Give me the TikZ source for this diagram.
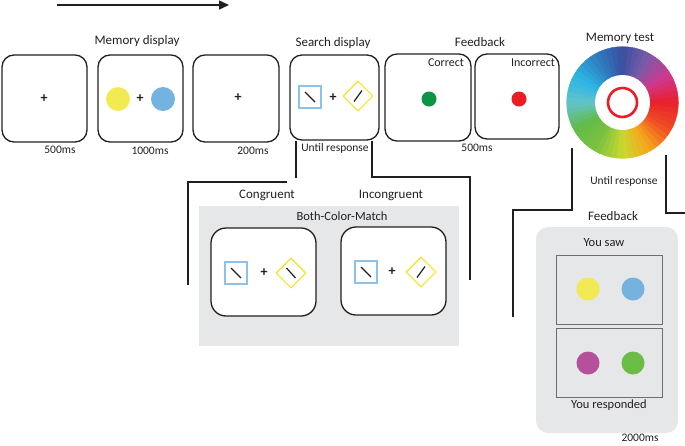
\documentclass[tikz,border=0pt]{standalone}
\usepackage{fontspec}
\setmainfont{Carlito}
\usetikzlibrary{arrows.meta}
\definecolor{ink}{HTML}{231F20}
\definecolor{panel}{HTML}{E6E7E8}
\definecolor{sqblue}{HTML}{8DC1E8}
\definecolor{diayel}{HTML}{F4E423}
\definecolor{dotyel}{HTML}{F2EA52}
\definecolor{dotblue}{HTML}{74B3E0}
\definecolor{dotgreen}{HTML}{0F9446}
\definecolor{dotred}{HTML}{EC1C24}
\definecolor{dotmag}{HTML}{B5519C}
\definecolor{dotlgreen}{HTML}{6BBE45}
\definecolor{rectgray}{HTML}{6D6E71}
\definecolor{k0}{HTML}{E8202A}
\definecolor{k1}{HTML}{EF4B26}
\definecolor{k2}{HTML}{F7A51C}
\definecolor{k3}{HTML}{C9D92E}
\definecolor{k4}{HTML}{7DC242}
\definecolor{k5}{HTML}{62BB47}
\definecolor{k6}{HTML}{62C3CC}
\definecolor{k7}{HTML}{2CB5E5}
\definecolor{k8}{HTML}{2E7FC2}
\definecolor{k9}{HTML}{3A4FA0}
\definecolor{k10}{HTML}{7A5BA7}
\definecolor{k11}{HTML}{D0378F}
\begin{document}
\begin{tikzpicture}[x=1pt,y=-1pt,
  frame/.style={draw=ink, line width=1.3pt, rounded corners=12pt, inner sep=0pt},
  title/.style={font=\fontsize{13}{15}\selectfont, text=ink, inner sep=0pt},
  lab/.style={font=\fontsize{11.5}{13}\selectfont, text=ink, inner sep=0pt},
  plus/.style={font=\fontsize{14}{15}\selectfont\bfseries, text=ink, inner sep=0pt},
  dot/.style={circle, inner sep=0pt, minimum size=#1},
  bsq/.style={draw=sqblue, line width=1.2pt, minimum size=22pt, inner sep=0pt},
  ydia/.style={draw=diayel, line width=1.2pt, minimum size=21pt, inner sep=0pt, rotate=45},
  bar/.style={draw=ink, line width=1.2pt},
  link/.style={draw=ink, line width=1.1pt}]
\useasboundingbox (0,0) rectangle (685,445);

% time arrow
\coordinate (a0) at (57,5);
\coordinate (a1) at (229,5);
\draw[ink, line width=1.5pt, -{Triangle[length=10pt,width=9pt]}] (a0) -- (a1);

% top row frames
\node[frame, minimum width=85pt, minimum height=87pt] (f1) at (44.5,98.5) {};
\node[frame, minimum width=85pt, minimum height=87pt] (f2) at (140.5,98.5) {};
\node[frame, minimum width=86pt, minimum height=87pt] (f3) at (236,98.5) {};
\node[frame, minimum width=89pt, minimum height=85pt] (f4) at (334.5,97.5) {};
\node[frame, minimum width=86pt, minimum height=87pt] (f5) at (428,97.5) {};
\node[frame, minimum width=84pt, minimum height=85pt] (f6) at (517,96.5) {};

% titles
\node[title] (t1) at (137,41) {Memory display};
\node[title] (t2) at (333,43) {Search display};
\node[title] (t3) at (480,42) {Feedback};
\node[title] (t4) at (620,38) {Memory test};

% durations
\node[lab] (d1) at (60,150) {500ms};
\node[lab] (d2) at (150,151) {1000ms};
\node[lab] (d3) at (253,151) {200ms};
\node[lab] (d4) at (335,148) {Until response};
\node[lab] (d5) at (477,148) {500ms};
\node[lab] (d6) at (624,181) {Until response};

% frame contents
\node[plus] (p1) at (44,99) {+};
\node[dot=24pt, fill=dotyel] (c1) at (118,99) {};
\node[plus] (p2) at (140,99) {+};
\node[dot=24pt, fill=dotblue] (c2) at (163,99) {};
\node[plus] (p3) at (238,98) {+};

\node[bsq] (s1) at (310,97) {};
\draw[bar] ([shift={(-5,-5)}]s1.center) -- ([shift={(5,5)}]s1.center);
\node[plus] (p4) at (333,98) {+};
\node[ydia] (y1) at (358,96) {};
\draw[bar] ([shift={(-4,5.5)}]y1.center) -- ([shift={(4,-5.5)}]y1.center);

\node[lab, font=\fontsize{12}{14}\selectfont] (cor) at (446,63) {Correct};
\node[dot=15pt, fill=dotgreen] (g1) at (429,99) {};
\node[lab, font=\fontsize{12}{14}\selectfont] (inc) at (533,63) {Incorrect};
\node[dot=15pt, fill=dotred] (r1) at (519,99) {};

% colour wheel
\coordinate (W) at (622.5,102.5);
\foreach \a/\ca/\cb in {0/k0/k1,30/k1/k2,60/k2/k3,90/k3/k4,120/k4/k5,150/k5/k6,180/k6/k7,210/k7/k8,240/k8/k9,270/k9/k10,300/k10/k11,330/k11/k0}{
  \foreach \i in {0,...,4}{
    \pgfmathsetmacro\st{\a+6*\i}
    \pgfmathsetmacro\md{\a+6*\i+3}
    \pgfmathsetmacro\en{\a+6*\i+6.5}
    \pgfmathtruncatemacro\p{90-20*\i}
    \filldraw[fill=\ca!\p!\cb, draw=\ca!\p!\cb, line width=0.4pt, line join=round] (W) -- +(\st:55.8) -- +(\md:55.85) -- +(\en:55.8) -- cycle;
  }
}
\fill[white] (W) circle (27.5);
\node[circle, draw=dotred, line width=2.6pt, minimum size=29pt, inner sep=0pt] (ring) at (W) {};

% search display brackets
\coordinate (sl0) at (296,141);
\coordinate (sl1) at (296,178);
\coordinate (sl2) at (287,182);
\coordinate (sl3) at (188,182);
\coordinate (sl4) at (188,285);
\draw[link] (sl0) -- (sl1);
\draw[link] (sl2) -- (sl3) -- (sl4);
\coordinate (sr0) at (372,141);
\coordinate (sr1) at (372,177);
\coordinate (sr2) at (470,177);
\coordinate (sr3) at (470,280);
\draw[link] (sr0) -- (sr1) -- (sr2) -- (sr3);

% memory test brackets
\coordinate (ml0) at (572,148);
\coordinate (ml1) at (572,210);
\coordinate (ml2) at (513,210);
\coordinate (ml3) at (513,317);
\draw[link] (ml0) -- (ml1) -- (ml2) -- (ml3);
\coordinate (mr0) at (666,155);
\coordinate (mr1) at (666,213);
\coordinate (mr2) at (685,213);
\draw[link] (mr0) -- (mr1) -- (mr2);

% congruent / incongruent panel
\node[title] (cg) at (267,195) {Congruent};
\node[title] (ic) at (391,195) {Incongruent};
\node[fill=panel, minimum width=260pt, minimum height=140pt, inner sep=0pt] (gp) at (329,276) {};
\node[title, font=\fontsize{12.5}{14}\selectfont] (bcm) at (342,216) {Both-Color-Match};
\node[frame, fill=white, rounded corners=15pt, minimum width=105pt, minimum height=88pt] (b1) at (263.5,272) {};
\node[frame, fill=white, rounded corners=15pt, minimum width=105pt, minimum height=88pt] (b2) at (393.5,271) {};

\node[bsq] (s2) at (236,273) {};
\draw[bar] ([shift={(-5,-5)}]s2.center) -- ([shift={(5,5)}]s2.center);
\node[plus] (p5) at (264,273) {+};
\node[ydia] (y2) at (291,273) {};
\draw[bar] ([shift={(-4.5,-5)}]y2.center) -- ([shift={(4.5,5)}]y2.center);

\node[bsq] (s3) at (366,272) {};
\draw[bar] ([shift={(-5,-5)}]s3.center) -- ([shift={(5,5)}]s3.center);
\node[plus] (p6) at (392,272) {+};
\node[ydia] (y3) at (421,272) {};
\draw[bar] ([shift={(-4,5.5)}]y3.center) -- ([shift={(4,-5.5)}]y3.center);

% feedback panel
\node[title] (fb) at (613,216) {Feedback};
\node[fill=panel, rounded corners=12pt, minimum width=142pt, minimum height=206pt, inner sep=0pt] (fp) at (607,330) {};
\node[title, font=\fontsize{12.5}{14}\selectfont] (ys) at (604,243) {You saw};
\node[draw=rectgray, line width=1pt, minimum width=106pt, minimum height=69pt, inner sep=0pt] (rs) at (609,289.5) {};
\node[draw=rectgray, line width=1pt, minimum width=106pt, minimum height=69pt, inner sep=0pt] (rr) at (609,362.5) {};
\node[dot=23pt, fill=dotyel] (c3) at (588,289) {};
\node[dot=23pt, fill=dotblue] (c4) at (633,289) {};
\node[dot=23pt, fill=dotmag] (c5) at (588,363) {};
\node[dot=23pt, fill=dotlgreen] (c6) at (633,363) {};
\node[title, font=\fontsize{12.5}{14}\selectfont] (yr) at (609,405) {You responded};
\node[lab] (d7) at (640,438) {2000ms};
\end{tikzpicture}
\end{document}
